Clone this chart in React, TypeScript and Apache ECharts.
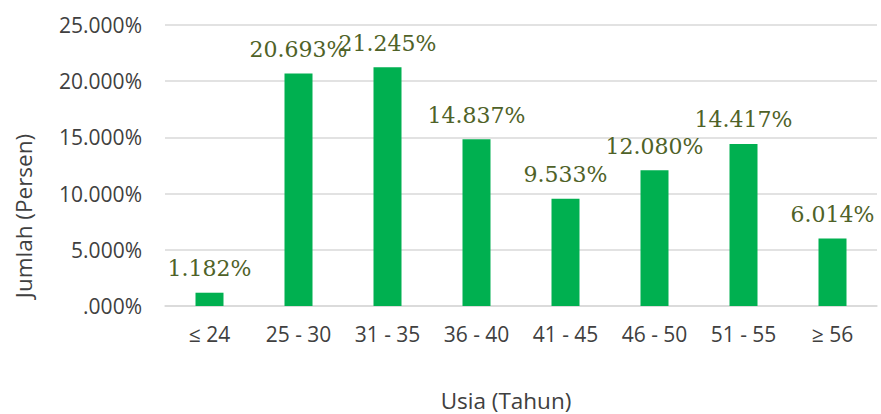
import React, { useEffect, useRef } from "react";
import * as echarts from "echarts";

const categories = ["≤ 24", "25 - 30", "31 - 35", "36 - 40", "41 - 45", "46 - 50", "51 - 55", "≥ 56"];
const values = [1.182, 20.693, 21.245, 14.837, 9.533, 12.08, 14.417, 6.014];
const yTicks = { min: 0, max: 25, interval: 5 };
const xTitle = "Usia (Tahun)";
const yTitle = "Jumlah (Persen)";

const axisFont = "'Open Sans', 'Noto Sans', sans-serif";

function fmtPct(v: number): string {
  const s = v.toFixed(3);
  return (s.startsWith("0") ? s.slice(1) : s) + "%";
}

export default function App() {
  const ref = useRef<HTMLDivElement>(null);
  useEffect(() => {
    if (!ref.current) return;
    const chart = echarts.init(ref.current, null, { renderer: "svg" });
    chart.setOption({
      animation: false,
      backgroundColor: "#ffffff",
      grid: { left: 165, right: 4, top: 25, bottom: 108 },
      xAxis: {
        type: "category",
        data: categories,
        axisLine: { show: true, lineStyle: { color: "#d9d9d9", width: 1.5 } },
        axisTick: { show: false },
        axisLabel: { color: "#404040", fontFamily: axisFont, fontSize: 21, margin: 17 },
      },
      yAxis: {
        type: "value",
        min: yTicks.min,
        max: yTicks.max,
        interval: yTicks.interval,
        axisLine: { show: false },
        axisTick: { show: false },
        splitLine: { lineStyle: { color: "#d9d9d9", width: 1.5 } },
        axisLabel: {
          color: "#404040",
          fontFamily: axisFont,
          fontSize: 21,
          margin: 23,
          formatter: (v: number) => fmtPct(v),
        },
      },
      graphic: [
        {
          type: "text",
          x: 506,
          y: 400,
          style: {
            text: xTitle,
            fill: "#404040",
            font: `22.5px ${axisFont}`,
            lineHeight: 24,
            align: "center",
            verticalAlign: "middle",
          },
        },
        {
          type: "text",
          x: 23,
          y: 216,
          rotation: Math.PI / 2,
          style: {
            text: yTitle,
            fill: "#404040",
            font: `22.5px ${axisFont}`,
            align: "center",
            verticalAlign: "middle",
          },
        },
      ],
      series: [
        {
          type: "bar",
          data: values,
          barWidth: 28,
          itemStyle: { color: "#00b050" },
          label: {
            show: true,
            position: "top",
            distance: 13,
            color: "#4f6228",
            fontFamily: "'DejaVu Serif', 'Liberation Serif', serif",
            fontSize: 22,
            formatter: (p: any) => fmtPct(p.value),
          },
        },
      ],
    });
    return () => chart.dispose();
  }, []);
  return <div ref={ref} style={{ width: 881, height: 414, position: "absolute", left: 0, top: 0 }} />;
}
